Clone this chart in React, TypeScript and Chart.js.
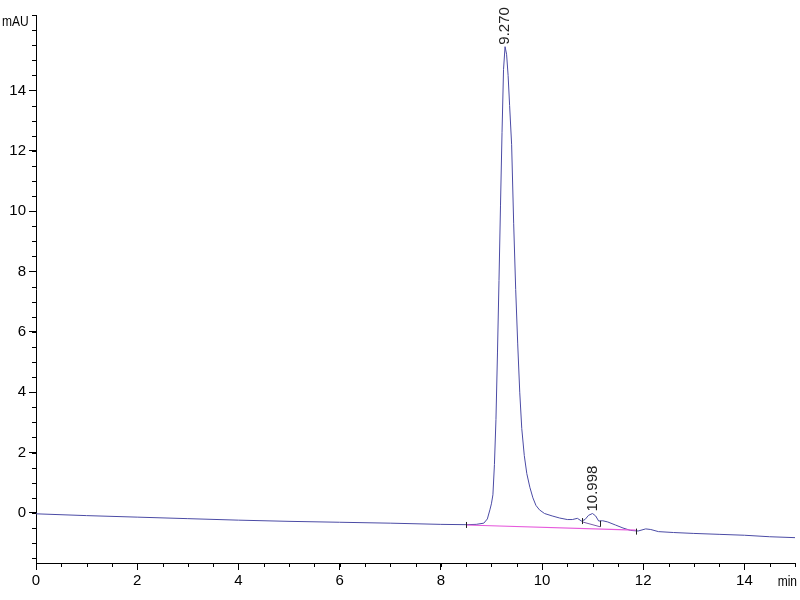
import React, { useEffect, useRef } from 'react';
import { Chart, registerables } from 'chart.js';

Chart.register(...registerables);

// Chromatogram trace (time in min, absorbance in mAU)
const times = [
  0, 1, 2, 3, 4, 5, 6, 7, 8, 8.5, 8.7, 8.85, 8.92, 8.97, 9.0, 9.03, 9.06, 9.09, 9.12, 9.15,
  9.18, 9.21, 9.24, 9.27, 9.3, 9.33, 9.36, 9.4, 9.44, 9.48, 9.52, 9.56, 9.6, 9.65, 9.7,
  9.76, 9.82, 9.88, 9.95, 10.05, 10.2, 10.35, 10.5, 10.6, 10.7, 10.78, 10.85, 10.92, 10.998,
  11.06, 11.12, 11.2, 11.3, 11.45, 11.6, 11.75, 11.9, 12.05, 12.15, 12.3, 12.6, 13.0, 13.5,
  14.0, 14.5, 15.0,
];
const absorbance = [
  -0.03, -0.09, -0.14, -0.19, -0.24, -0.28, -0.31, -0.34, -0.38, -0.39, -0.38, -0.34, -0.2, 0.1,
  0.3, 0.6, 1.6, 3.1, 5.3, 7.7, 10.2, 12.6, 14.7, 15.45, 15.2, 14.5, 13.5, 12.2, 9.6, 7.4,
  5.6, 4.0, 2.8, 1.9, 1.3, 0.85, 0.5, 0.25, 0.1, -0.02, -0.1, -0.17, -0.22, -0.22, -0.18,
  -0.27, -0.22, -0.08, -0.02, -0.1, -0.27, -0.26, -0.3, -0.4, -0.5, -0.58, -0.6, -0.53,
  -0.55, -0.62, -0.65, -0.68, -0.71, -0.74, -0.79, -0.82,
];

// Integration baselines
const baselineTimes = [8.5, 11.85];
const baselineValues = [-0.4, -0.57];
const minorBaselineTimes = [10.8, 11.15];
const minorBaselineValues = [-0.3, -0.46];

// Peak annotations
const peakTimes = [9.27, 10.998];
const peakHeights = [15.45, -0.02];
const peakLabels = ['9.270', '10.998'];

// Integration event markers
const markerTimes = [8.5, 10.8, 11.15, 11.85];
const markerValues = [-0.4, -0.27, -0.36, -0.62];

// Axis ticks
const xMajorTicks = [0, 2, 4, 6, 8, 10, 12, 14];
const yMajorTicks = [0, 2, 4, 6, 8, 10, 12, 14];
const xMinorTicks = Array.from({ length: 31 }, (_, i) => i * 0.5);
const yMinorTicks = Array.from({ length: 37 }, (_, i) => -1.5 + i * 0.5);

const X_MIN = 0;
const X_MAX = 15;
const Y_MIN = -1.66;
const Y_MAX = 16.5;

const TICK_FONT = "'Liberation Sans', Arial, sans-serif";

function condensedText(ctx: any, text: string, x: number, y: number, align: 'left' | 'right') {
  const sx = 0.8;
  ctx.save();
  ctx.translate(x, y);
  ctx.scale(sx, 1);
  ctx.textAlign = align;
  ctx.textBaseline = 'middle';
  ctx.fillText(text, 0, 0);
  ctx.restore();
}

const overlayPlugin = {
  id: 'overlay',
  afterDatasetsDraw(chart: any) {
    const { ctx, chartArea } = chart;
    const x = chart.scales.x;
    const y = chart.scales.y;
    ctx.save();
    ctx.strokeStyle = '#000';
    ctx.lineWidth = 1;
    ctx.beginPath();
    for (const v of xMinorTicks) {
      const px = Math.round(x.getPixelForValue(v)) + 0.5;
      ctx.moveTo(px, chartArea.bottom);
      ctx.lineTo(px, chartArea.bottom + 4);
    }
    for (const v of yMinorTicks) {
      const py = Math.round(y.getPixelForValue(v)) + 0.5;
      ctx.moveTo(chartArea.left - 4, py);
      ctx.lineTo(chartArea.left, py);
    }
    ctx.stroke();

    // integration markers
    ctx.strokeStyle = '#222';
    ctx.beginPath();
    markerTimes.forEach((t, i) => {
      const px = Math.round(x.getPixelForValue(t)) + 0.5;
      const py = y.getPixelForValue(markerValues[i]);
      ctx.moveTo(px, py - 3);
      ctx.lineTo(px, py + 3);
    });
    ctx.stroke();

    // peak labels
    ctx.fillStyle = '#222';
    ctx.font = "15px 'Liberation Sans', Arial, sans-serif";
    peakTimes.forEach((t, i) => {
      const px = x.getPixelForValue(t);
      const py = y.getPixelForValue(peakHeights[i]);
      ctx.save();
      ctx.translate(px, py - 2);
      ctx.rotate(-Math.PI / 2);
      ctx.textAlign = 'left';
      ctx.textBaseline = 'middle';
      ctx.fillText(peakLabels[i], 0, 0);
      ctx.restore();
    });

    // axis units
    ctx.fillStyle = '#000';
    ctx.font = `15px ${TICK_FONT}`;
    condensedText(ctx, 'mAU', 2, chartArea.top + 7, 'left');
    condensedText(ctx, 'min', chart.width - 3, chartArea.bottom + 19, 'right');
    ctx.restore();
  },
};

export default function App() {
  const canvasRef = useRef<HTMLCanvasElement | null>(null);

  useEffect(() => {
    if (!canvasRef.current) return;
    const chart = new Chart(canvasRef.current, {
      type: 'line',
      data: {
        datasets: [
          {
            data: minorBaselineTimes.map((t, i) => ({ x: t, y: minorBaselineValues[i] })),
            borderColor: 'rgb(120,90,170)',
            borderWidth: 1,
            pointRadius: 0,
          },
          {
            data: baselineTimes.map((t, i) => ({ x: t, y: baselineValues[i] })),
            borderColor: 'rgb(230,90,220)',
            borderWidth: 1.2,
            pointRadius: 0,
          },
          {
            data: times.map((t, i) => ({ x: t, y: absorbance[i] })),
            borderColor: 'rgb(75,75,165)',
            borderWidth: 1,
            pointRadius: 0,
            tension: 0,
          },
        ],
      },
      options: {
        animation: false,
        responsive: false,
        devicePixelRatio: 1,
        layout: { padding: { top: 15, right: 5, left: 0, bottom: 0 } },
        plugins: { legend: { display: false }, tooltip: { enabled: false } },
        scales: {
          x: {
            type: 'linear',
            min: X_MIN,
            max: X_MAX,
            afterBuildTicks: (s: any) => {
              s.ticks = xMajorTicks.map((v) => ({ value: v }));
            },
            afterFit: (s: any) => {
              s.height = 37;
            },
            grid: { display: true, drawOnChartArea: false, drawTicks: true, tickLength: 7, color: '#000' },
            border: { display: true, color: '#000', width: 1 },
            ticks: {
              color: '#000',
              font: { family: TICK_FONT, size: 15 },
              padding: 2,
              maxRotation: 0,
              autoSkip: false,
            },
          },
          y: {
            type: 'linear',
            min: Y_MIN,
            max: Y_MAX,
            afterBuildTicks: (s: any) => {
              s.ticks = yMajorTicks.map((v) => ({ value: v }));
            },
            afterFit: (s: any) => {
              s.width = 36;
            },
            grid: { display: true, drawOnChartArea: false, drawTicks: true, tickLength: 7, color: '#000' },
            border: { display: true, color: '#000', width: 1 },
            ticks: {
              color: '#000',
              font: { family: TICK_FONT, size: 15 },
              padding: 3,
              autoSkip: false,
            },
          },
        },
      },
      plugins: [overlayPlugin],
    });
    return () => chart.destroy();
  }, []);

  return (
    <div style={{ position: 'absolute', left: 0, top: 0, width: 800, height: 600, background: '#fff' }}>
      <canvas ref={canvasRef} width={800} height={600} />
    </div>
  );
}
